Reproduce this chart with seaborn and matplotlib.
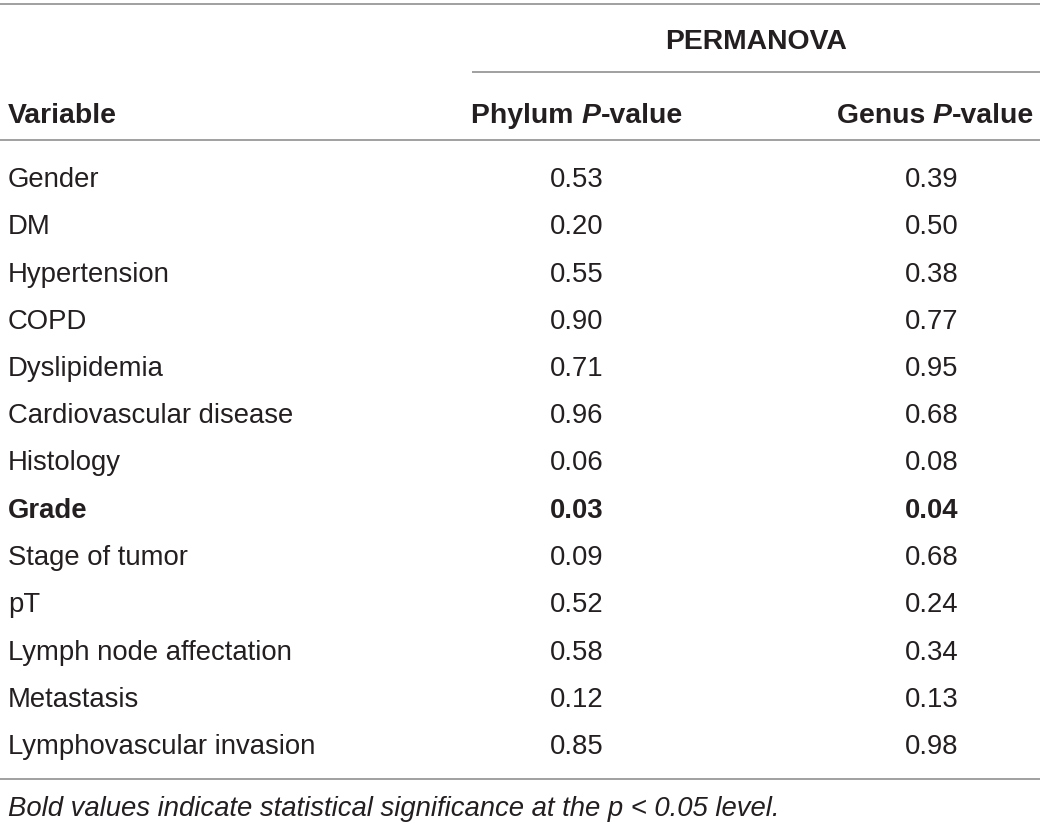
import matplotlib
matplotlib.use("Agg")
import matplotlib.pyplot as plt
import seaborn as sns

variables = ["Gender", "DM", "Hypertension", "COPD", "Dyslipidemia",
             "Cardiovascular disease", "Histology", "Grade", "Stage of tumor",
             "pT", "Lymph node affectation", "Metastasis", "Lymphovascular invasion"]
phylum_p = ["0.53", "0.20", "0.55", "0.90", "0.71", "0.96", "0.06",
            "0.03", "0.09", "0.52", "0.58", "0.12", "0.85"]
genus_p = ["0.39", "0.50", "0.38", "0.77", "0.95", "0.68", "0.08",
           "0.04", "0.68", "0.24", "0.34", "0.13", "0.98"]
significant = ["Grade"]
footnote = "Bold values indicate statistical significance at the p < 0.05 level."

sns.set_theme(style="white")
plt.rcParams["font.family"] = ["Liberation Sans", "DejaVu Sans"]

TXT = "#231f20"
RULE = "#a0a0a0"
FS = 19.8
FSH = 20.4

fig = plt.figure(figsize=(10.4, 8.29), dpi=100)
ax = fig.add_axes([0, 0, 1, 1])
ax.set_xlim(0, 1040)
ax.set_ylim(829, 0)
ax.axis("off")
renderer = fig.canvas.get_renderer()


def runs(x, y, parts, ha="left"):
    # draw a line of mixed-style text pieces
    widths = []
    for s, kw in parts:
        t = ax.text(0, 0, s, fontsize=FSH, **kw)
        widths.append(t.get_window_extent(renderer).width)
        t.remove()
    total = sum(widths)
    if ha == "center":
        x -= total / 2
    elif ha == "right":
        x -= total
    for (s, kw), w in zip(parts, widths):
        ax.text(x, y, s, fontsize=FSH, color=TXT, va="center", ha="left", **kw)
        x += w


# rules
ax.hlines([5, 141, 780], 0, 1040, color=RULE, lw=1.4)
ax.hlines(73, 472, 1040, color=RULE, lw=1.4)

# headers
ax.text(756, 42, "PERMANOVA", fontsize=FSH, fontweight="bold", color=TXT,
        ha="center", va="center")
ax.text(8, 116, "Variable", fontsize=FSH, fontweight="bold", color=TXT, va="center")
b = {"fontweight": "bold"}
bi = {"fontweight": "bold", "fontstyle": "italic"}
runs(577, 116, [("Phylum ", b), ("P", bi), ("-value", b)], ha="center")
runs(1034, 116, [("Genus ", b), ("P", bi), ("-value", b)], ha="right")

# body
for i, (v, p1, p2) in enumerate(zip(variables, phylum_p, genus_p)):
    y = 180 + i * 47.25
    w = "bold" if v in significant else "normal"
    ax.text(8, y, v, fontsize=FS, fontweight=w, color=TXT, va="center")
    ax.text(577, y, p1, fontsize=FS, fontweight=w, color=TXT, va="center", ha="center")
    ax.text(932, y, p2, fontsize=FS, fontweight=w, color=TXT, va="center", ha="center")

ax.text(8, 809, footnote, fontsize=FS, fontstyle="italic", color=TXT, va="center")

fig.savefig("out.png", dpi=100)
